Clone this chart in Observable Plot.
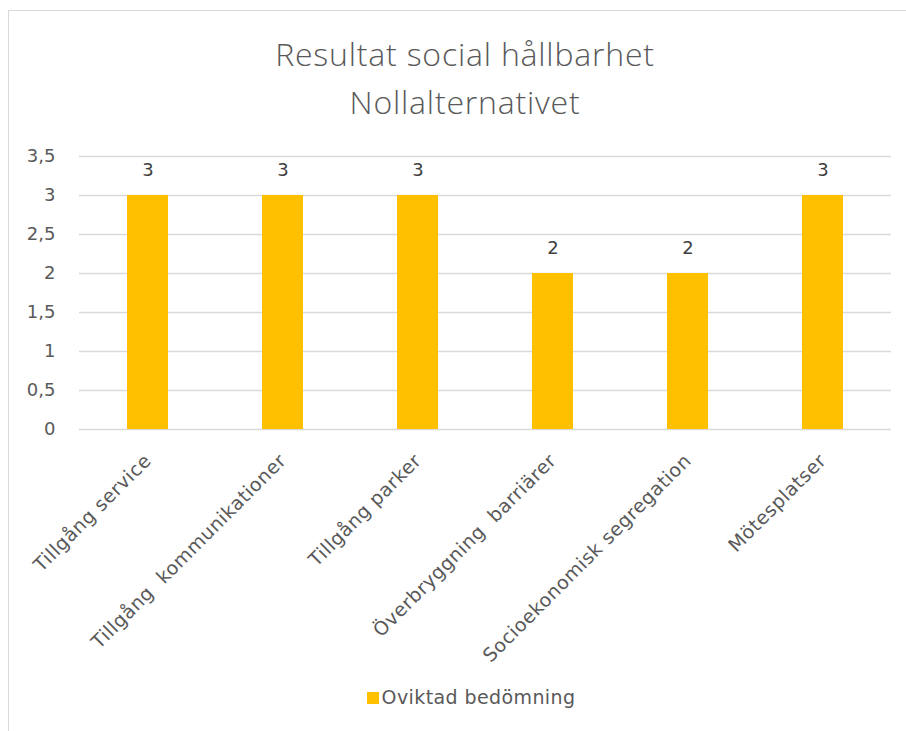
<!DOCTYPE html>
<html>
<head>
<meta charset="utf-8">
<script src="https://cdn.jsdelivr.net/npm/d3@7"></script>
<script src="https://cdn.jsdelivr.net/npm/@observablehq/plot@0.6"></script>
<style>
  html, body { margin: 0; padding: 0; background: #fff; width: 906px; height: 731px; overflow: hidden; }
  #frame { position: absolute; left: 8px; top: 10px; width: 920px; height: 760px; border: 1px solid #d9d9d9; box-sizing: border-box; }
  .title { position: absolute; left: 0; width: 930px; text-align: center; font-family: "Open Sans", sans-serif; font-weight: 300; font-size: 32px; letter-spacing: 0.8px; color: #595959; line-height: 1; white-space: nowrap; }
  #chart { position: absolute; left: 0; top: 130px; }
  svg text { white-space: pre; }
  #legend { position: absolute; left: 0; width: 942px; top: 688px; text-align: center; font-family: "DejaVu Sans", sans-serif; font-size: 19px; letter-spacing: 0.4px; color: #595959; line-height: 1; white-space: nowrap; }
  #legend .sw { display: inline-block; width: 12px; height: 12px; background: #FFC000; margin-right: 3px; vertical-align: 0px; }
  .xlab { letter-spacing: 0.5px; }
</style>
</head>
<body>
<div id="frame"></div>
<div class="title" style="top:38px">Resultat social hållbarhet</div>
<div class="title" style="top:86px">Nollalternativet</div>
<div id="chart"></div>
<div id="legend"><span class="sw"></span>Oviktad bedömning</div>
<script>
const categories = ["Tillgång service", "Tillgång  kommunikationer", "Tillgång parker", "Överbryggning  barriärer", "Socioekonomisk segregation", "Mötesplatser"];
const values = [3, 3, 3, 2, 2, 3];
const yTicks = [0, 0.5, 1, 1.5, 2, 2.5, 3, 3.5];
const seriesName = "Oviktad bedömning";

const data = categories.map((c, i) => ({category: c, value: values[i], series: seriesName}));
const fmt = v => String(v).replace(".", ",");
const font = "'DejaVu Sans', sans-serif";

const plot = Plot.plot({
  width: 906,
  height: 549,
  marginLeft: 79,
  marginRight: 15,
  marginTop: 26,
  marginBottom: 250,
  style: {fontFamily: font, fontSize: "18px", color: "#595959", background: "transparent"},
  x: {domain: categories, paddingInner: 0.695, paddingOuter: 0.3475, label: null, axis: null},
  y: {domain: [0, 3.5], label: null, axis: null},
  marks: [
    Plot.gridY(yTicks, {stroke: "#d9d9d9", strokeOpacity: 1, strokeWidth: 1.5}),
    Plot.axisY(yTicks, {tickSize: 0, tickPadding: 24, tickFormat: fmt, fontSize: 18, fill: "#595959", label: null}),
    Plot.barY(data, {x: "category", y: "value", fill: "#FFC000"}),
    Plot.text(data, {x: "category", y: "value", text: d => fmt(d.value), dy: -25, lineAnchor: "middle", fontSize: 18, fill: "#404040"}),
    Plot.text(categories, {x: d => d, text: d => d, frameAnchor: "bottom", dy: 28, dx: 0, rotate: -45, textAnchor: "end", lineAnchor: "middle", fontSize: 19, fill: "#595959", className: "xlab"})
  ]
});
document.getElementById("chart").appendChild(plot);
</script>
</body>
</html>
